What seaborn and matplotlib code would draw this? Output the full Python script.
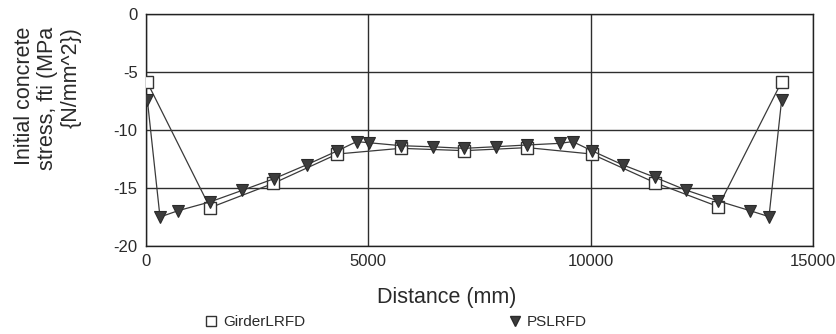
import matplotlib
matplotlib.use("Agg")
import matplotlib.pyplot as plt
from matplotlib.lines import Line2D
import seaborn as sns
import pandas as pd

# GirderLRFD series (square markers)
girder_x = [30, 1440, 2863, 4303, 5727, 7158, 8575, 10022, 11446, 12870, 14295]
girder_y = [-5.9, -16.7, -14.6, -12.07, -11.58, -11.78, -11.52, -12.07, -14.54, -16.61, -5.84]

# PSLRFD series (triangle markers)
psl_x = [30, 315, 727, 1440, 2166, 2878, 3613, 4303, 4737, 5022, 5727, 6447, 7158,
         7870, 8575, 9310, 9595, 10022, 10720, 11446, 12137, 12870, 13580, 14010, 14295]
psl_y = [-7.4, -17.5, -16.95, -16.2, -15.2, -14.2, -13.0, -11.8, -11.0, -11.1, -11.35, -11.45, -11.58,
         -11.44, -11.29, -11.15, -11.0, -11.78, -13.0, -14.08, -15.17, -16.12, -16.95, -17.47, -7.4]

x_ticks = [0, 5000, 10000, 15000]
y_ticks = [0, -5, -10, -15, -20]

sns.set_theme(style="white")
plt.rcParams['font.family'] = ['Liberation Sans', 'DejaVu Sans']

fig = plt.figure(figsize=(8.36, 3.34), dpi=100)
ax = fig.add_axes([146 / 836, 1 - 246 / 334, 667 / 836, 232 / 334])

df_g = pd.DataFrame({'x': girder_x, 'y': girder_y})
df_p = pd.DataFrame({'x': psl_x, 'y': psl_y})

line_col = '#3a3a3a'
sns.lineplot(data=df_g, x='x', y='y', ax=ax, sort=False, color=line_col, lw=0.9,
             marker='s', markersize=8, markerfacecolor='white', markeredgecolor='#333333',
             markeredgewidth=1.0, zorder=3)
sns.lineplot(data=df_p, x='x', y='y', ax=ax, sort=False, color=line_col, lw=0.9,
             marker='v', markersize=8, markerfacecolor='#3c3c3c', markeredgecolor='#2a2a2a',
             markeredgewidth=0.8, zorder=4)

ax.set_xlim(0, 15000)
ax.set_ylim(-20, 0)
ax.set_xticks(x_ticks)
ax.set_yticks(y_ticks)
ax.set_xticklabels([str(t) for t in x_ticks])
ax.set_yticklabels([str(t) for t in y_ticks])
ax.grid(True, color='#2e2e2e', lw=1.0)
for s in ax.spines.values():
    s.set_color('#222222')
    s.set_linewidth(1.0)
ax.tick_params(axis='both', direction='out', length=4, width=1, color='#222222',
               labelsize=12, labelcolor='#2a2a2a', pad=2)
for lab in ax.get_xticklabels() + ax.get_yticklabels():
    lab.set_family(['Liberation Sans Narrow', 'Liberation Sans'])
ax.set_xlabel('')
ax.set_ylabel('')

fig.text(447 / 836, 1 - 297 / 334, 'Distance (mm)', ha='center', va='center',
         fontsize=15.5, color='#2a2a2a')
fig.text(48 / 836, 1 - 27 / 334, 'Initial concrete\nstress, fti (MPa\n{N/mm^2})',
         rotation=90, ha='center', va='top', multialignment='right',
         fontsize=15.5, color='#2a2a2a', linespacing=1.15)

handles = [
    Line2D([], [], ls='none', marker='s', markersize=7, markerfacecolor='white',
           markeredgecolor='#333333', markeredgewidth=1.0),
    Line2D([], [], ls='none', marker='v', markersize=7, markerfacecolor='#3c3c3c',
           markeredgecolor='#2a2a2a'),
]
fig.legend(handles, ['GirderLRFD', 'PSLRFD'], loc='center left', ncol=2,
           bbox_to_anchor=(205 / 836, 1 - 322 / 334), frameon=False, fontsize=11,
           handlelength=0.8, handletextpad=0.4, columnspacing=13.3,
           borderpad=0, borderaxespad=0, labelcolor='#2a2a2a')

fig.savefig('out.png', dpi=100)
